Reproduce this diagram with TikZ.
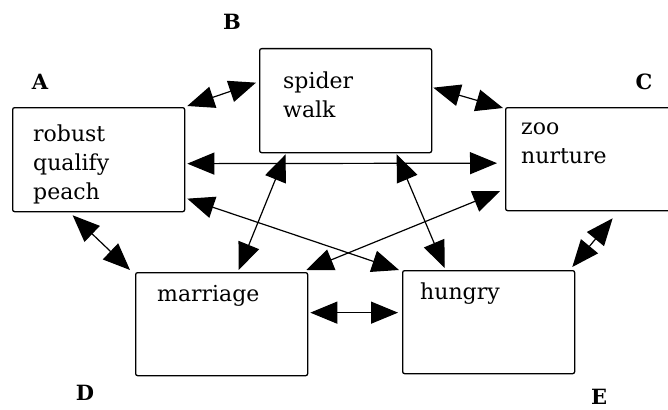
\documentclass[tikz,border=0pt]{standalone}
\usepackage{fontspec}
\setmainfont{DejaVu Serif}
\usepackage{tikz}
\usetikzlibrary{arrows.meta,positioning}
\usepackage{xcolor}
\definecolor{wordblack}{RGB}{0,0,0}
\tikzstyle{box} = [rectangle, rounded corners=2pt, draw=wordblack, line width=1.3pt, anchor=north west, inner sep=0pt, minimum width=172pt, minimum height=104pt]
\tikzstyle{words} = [anchor=north west, inner sep=0pt, align=left, label distance=0pt]
\tikzstyle{tag} = [font=\fontsize{21}{24}\selectfont\bfseries]
\tikzstyle{link} = [line width=1.2pt, {Triangle[length=27pt,width=22pt]}-{Triangle[length=27pt,width=22pt]}, color=wordblack]

\begin{document}
\begin{tikzpicture}[x=1pt, y=-1pt, font=\fontsize{22}{29}\selectfont]
\useasboundingbox (0,0) rectangle (668,409);
% Word boxes
\node (A) [box, label={[words, xshift=21pt, yshift=-18pt]north west:{robust\\qualify\\peach}}] at (12,107) {};
\node (B) [box, label={[words, xshift=24pt, yshift=-24pt]north west:{spider\\walk}}] at (259,48) {};
\node (C) [box, minimum width=180pt, minimum height=103pt, label={[words, xshift=16pt, yshift=-16pt]north west:{zoo\\nurture}}] at (505,107) {};
\node (D) [box, minimum height=103pt, label={[words, xshift=22pt, yshift=-13pt]north west:{marriage}}] at (135,272) {};
\node (E) [box, minimum height=103pt, label={[words, xshift=18pt, yshift=-13pt]north west:{hungry}}] at (402,270) {};

% Letters
\node (tA) [tag] at (40,82) {A};
\node (tB) [tag] at (232,22) {B};
\node (tC) [tag] at (644,82) {C};
\node (tD) [tag] at (85,393) {D};
\node (tE) [tag] at (599,397) {E};

% Links
\draw[link] ([xshift=2pt, yshift=1pt]A.north east) -- ([xshift=-3pt, yshift=18pt]B.west);
\draw[link] ([xshift=1pt, yshift=13pt]B.east) -- ([xshift=-2pt, yshift=-1pt]C.north west);
\draw[link] ([xshift=2pt, yshift=-4pt]A.east) -- ([xshift=-8pt, yshift=-4pt]C.west);
\draw[link] ([xshift=-60pt, yshift=-1pt]B.south) -- ([xshift=17pt, yshift=2pt]D.north);
\draw[link] ([xshift=51pt, yshift=-1pt]B.south) -- ([xshift=-44pt, yshift=2pt]E.north);
\draw[link] ([xshift=2pt, yshift=-39pt]A.east) -- ([xshift=-3pt]E.north west);
\draw[link] ([xshift=-2pt, yshift=2pt]D.north east) -- ([xshift=-5pt, yshift=-32pt]C.west);
\draw[link] ([xshift=-26pt, yshift=-3pt]A.south) -- ([xshift=-5pt, yshift=2pt]D.north west);
\draw[link] ([xshift=2pt, yshift=11.5pt]D.east) -- ([xshift=-4pt, yshift=9.5pt]E.west);
\draw[link] ([xshift=17pt, yshift=-7pt]C.south) -- ([xshift=-3pt, yshift=3pt]E.north east);
\end{tikzpicture}
\end{document}
